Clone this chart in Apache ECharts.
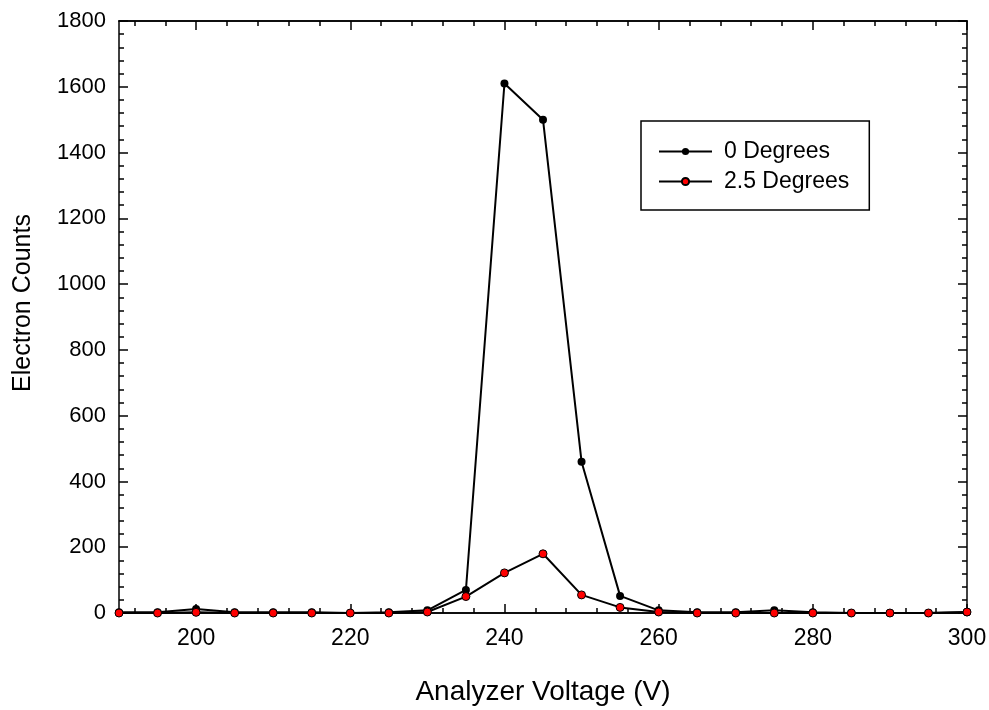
<!DOCTYPE html>
<html>
<head>
<meta charset="utf-8">
<script src="https://cdn.jsdelivr.net/npm/echarts@6/dist/echarts.min.js"></script>
<style>
  html, body { margin: 0; padding: 0; background: #fff; }
  #main { width: 989px; height: 710px; }
</style>
</head>
<body>
<div id="main"></div>
<script>
// analyzer voltage (V)
var voltage = [190, 195, 200, 205, 210, 215, 220, 225, 230, 235, 240, 245, 250, 255, 260, 265, 270, 275, 280, 285, 290, 295, 300];
var deg0 = [2, 2, 12, 2, 2, 2, 0, 2, 8, 70, 1610, 1500, 460, 52, 8, 2, 2, 8, 2, 0, 0, 0, 2];
var deg25 = [0, 0, 2, 0, 0, 0, 0, 0, 3, 50, 122, 180, 55, 17, 3, 0, 0, 0, 0, 0, 0, 0, 3];
var xLabels = [200, 220, 240, 260, 280, 300];
var xMinor = [];
for (var v = 192; v < 300; v += 4) xMinor.push(v);

var font = 'Liberation Sans, Arial, sans-serif';

function pairs(ys) {
  return voltage.map(function (x, i) { return [x, ys[i]]; });
}

var chartDom = document.getElementById('main');
var myChart = echarts.init(chartDom);

var xBase = {
  type: 'value', min: 190, max: 300,
  axisLine: { show: true, onZero: false, lineStyle: { color: '#000', width: 1.5 } },
  splitLine: { show: false }
};

var option = {
  animation: false,
  backgroundColor: '#fff',
  grid: { left: 119, right: 22, top: 21, bottom: 97, outerBoundsMode: 'none' },
  legend: {
    orient: 'vertical',
    left: 641, top: 121,
    padding: [19, 20, 17, 17],
    itemWidth: 53, itemHeight: 9, itemGap: 7,
    borderColor: '#000', borderWidth: 1.5,
    backgroundColor: '#fff',
    textStyle: { fontFamily: font, fontSize: 23, color: '#000', padding: [0, 0, 0, 7] },
    data: ['0 Degrees', '2.5 Degrees']
  },
  xAxis: [
    Object.assign({}, xBase, {
      position: 'bottom',
      name: 'Analyzer Voltage (V)', nameLocation: 'middle', nameGap: 65,
      nameTextStyle: { fontFamily: font, fontSize: 28, color: '#000' },
      axisTick: { show: true, inside: true, length: 5, customValues: xMinor, lineStyle: { color: '#000', width: 1.5 } },
      axisLabel: { show: true, customValues: xLabels, fontFamily: font, fontSize: 23, color: '#000', margin: 14 }
    }),
    Object.assign({}, xBase, {
      position: 'bottom',
      axisTick: { show: true, inside: true, length: 9, customValues: xLabels, lineStyle: { color: '#000', width: 1.5 } },
      axisLabel: { show: false }
    }),
    Object.assign({}, xBase, {
      position: 'top',
      axisTick: { show: true, inside: true, length: 5, customValues: xMinor, lineStyle: { color: '#000', width: 1.5 } },
      axisLabel: { show: false }
    }),
    Object.assign({}, xBase, {
      position: 'top',
      axisTick: { show: true, inside: true, length: 9, customValues: xLabels, lineStyle: { color: '#000', width: 1.5 } },
      axisLabel: { show: false }
    })
  ],
  yAxis: [
    {
      type: 'value', min: 0, max: 1800, interval: 200, position: 'left',
      name: 'Electron Counts', nameLocation: 'middle', nameGap: 83,
      nameTextStyle: { fontFamily: font, fontSize: 25, color: '#000', padding: [0, 0, 0, 28] },
      axisLine: { show: true, lineStyle: { color: '#000', width: 1.5 } },
      axisTick: { show: true, inside: true, length: 9, lineStyle: { color: '#000', width: 1.5 } },
      minorTick: { show: true, splitNumber: 5, length: 5, lineStyle: { color: '#000', width: 1.5 } },
      axisLabel: { fontFamily: font, fontSize: 22, color: '#000', margin: 13, formatter: function (v) { return String(v); } },
      splitLine: { show: false }
    },
    {
      type: 'value', min: 0, max: 1800, interval: 200, position: 'right',
      axisLine: { show: true, lineStyle: { color: '#000', width: 1.5 } },
      axisTick: { show: true, inside: true, length: 9, lineStyle: { color: '#000', width: 1.5 } },
      minorTick: { show: true, splitNumber: 5, length: 5, lineStyle: { color: '#000', width: 1.5 } },
      axisLabel: { show: false },
      splitLine: { show: false }
    }
  ],
  series: [
    {
      name: '0 Degrees', type: 'line', data: pairs(deg0),
      xAxisIndex: 0, yAxisIndex: 0,
      symbol: 'circle', symbolSize: 8,
      lineStyle: { color: '#000', width: 2 },
      itemStyle: { color: '#000' }
    },
    {
      name: '2.5 Degrees', type: 'line', data: pairs(deg25),
      xAxisIndex: 0, yAxisIndex: 0,
      symbol: 'circle', symbolSize: 8,
      lineStyle: { color: '#000', width: 2 },
      itemStyle: { color: '#ff0000', borderColor: '#000', borderWidth: 1 }
    }
  ]
};

myChart.setOption(option);
window.onresize = function () { myChart.resize(); };
</script>
</body>
</html>
